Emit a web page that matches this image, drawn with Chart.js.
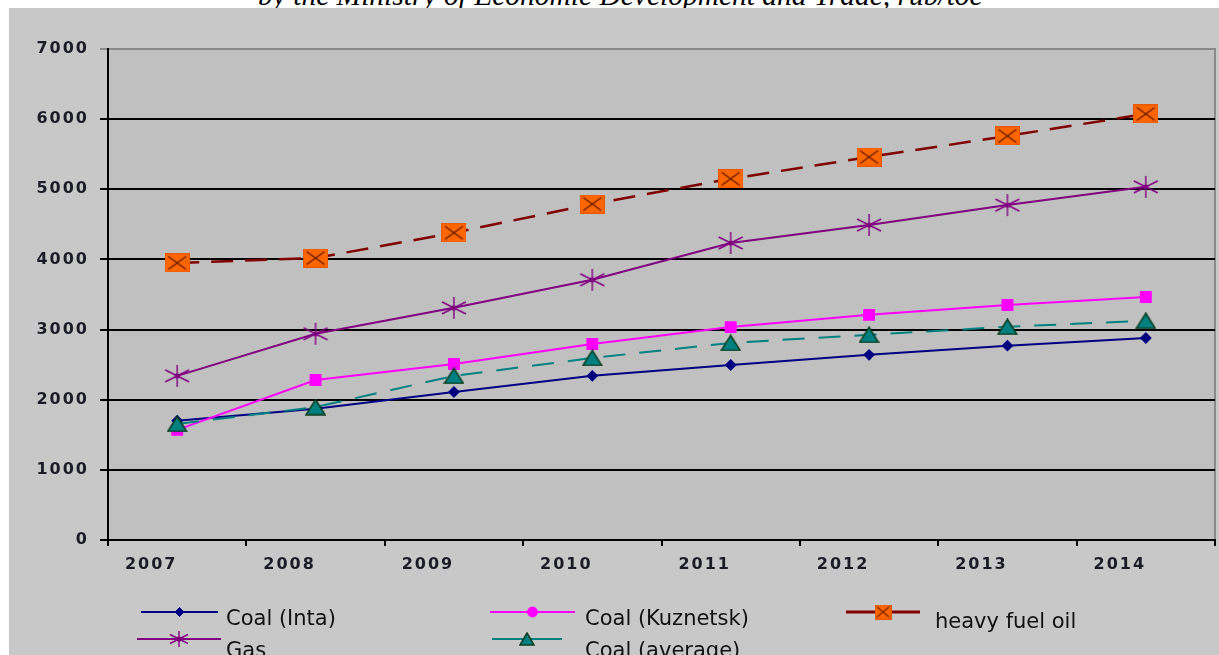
<!DOCTYPE html>
<html><head><meta charset="utf-8">
<script src="https://cdn.jsdelivr.net/npm/chart.js@4.4.0/dist/chart.umd.min.js"></script>
<style>
html,body{margin:0;padding:0;background:#fff;width:1219px;height:655px;overflow:hidden;position:relative;}
#cap{position:absolute;left:258px;top:-16px;font-family:'Liberation Serif','DejaVu Serif',serif;font-style:italic;font-size:22px;line-height:22px;white-space:nowrap;color:#000;z-index:1;}
#wrap{position:absolute;left:9px;top:8px;width:1210px;height:647px;background:#c8c8c8;z-index:2;}
canvas{display:block;}
</style></head><body>
<div id="cap">by the Ministry of Economic Development and Trade, rub/toe</div>
<div id="wrap"><canvas id="c" width="1210" height="647"></canvas></div>
<script>
// ---- data ----
const years = ['2007','2008','2009','2010','2011','2012','2013','2014'];
const coalInta = [1700, 1870, 2110, 2340, 2495, 2640, 2770, 2880];
const coalKuznetsk = [1570, 2280, 2510, 2795, 3035, 3210, 3350, 3465];
const heavyFuelOil = [3950, 4020, 4380, 4790, 5150, 5460, 5760, 6075];
const gas = [2340, 2940, 3310, 3710, 4235, 4490, 4775, 5035];
const coalAverage = [1655, 1895, 2340, 2595, 2810, 2925, 3040, 3125];
const seriesNames = ['Coal (Inta)', 'Coal (Kuznetsk)', 'heavy fuel oil', 'Gas', 'Coal (average)'];

// caption width fit
(function(){
  const cap = document.getElementById('cap');
  const w = cap.getBoundingClientRect().width;
  cap.style.fontSize = (22 * 725 / w) + 'px';
})();

// ---- marker images ----
function makeHfo(w, h){
  const c = document.createElement('canvas'); c.width = w; c.height = h;
  const g = c.getContext('2d');
  g.fillStyle = '#FF6600'; g.fillRect(0, 0, w, h);
  g.strokeStyle = '#e85a00'; g.lineWidth = 1; g.strokeRect(0.5, 0.5, w-1, h-1);
  g.strokeStyle = '#5a1800'; g.lineWidth = 1.2;
  g.beginPath();
  g.moveTo(w*0.14, h*0.16); g.lineTo(w*0.86, h*0.84);
  g.moveTo(w*0.86, h*0.16); g.lineTo(w*0.14, h*0.84);
  g.stroke();
  return c;
}
function makeStar(w, h){
  const c = document.createElement('canvas'); c.width = w; c.height = h;
  const g = c.getContext('2d');
  g.strokeStyle = '#800080'; g.lineWidth = 1.4;
  g.beginPath();
  g.moveTo(w/2, 1); g.lineTo(w/2, h-1);
  g.moveTo(1, h*0.25); g.lineTo(w-1, h*0.75);
  g.moveTo(1, h*0.75); g.lineTo(w-1, h*0.25);
  g.stroke();
  g.fillStyle = '#800080';
  g.beginPath(); g.arc(w/2, h/2, 2.6, 0, Math.PI*2); g.fill();
  return c;
}
function makeTri(w, h){
  const c = document.createElement('canvas'); c.width = w; c.height = h;
  const g = c.getContext('2d');
  g.fillStyle = '#008080'; g.strokeStyle = '#0a3d1e'; g.lineWidth = 1.5;
  g.beginPath(); g.moveTo(w/2, 1); g.lineTo(w-1, h-1); g.lineTo(1, h-1); g.closePath();
  g.fill(); g.stroke();
  return c;
}
const hfoImg = makeHfo(25, 19), hfoLeg = makeHfo(17, 15);
const starImg = makeStar(26, 24), starLeg = makeStar(20, 18);
const triImg = makeTri(21, 17), triLeg = makeTri(16, 14);

// ---- plugins ----
const bgPlugin = {
  id: 'bg',
  beforeDraw(chart){
    const {ctx, chartArea: a} = chart;
    ctx.save();
    ctx.fillStyle = '#c0c0c0';
    ctx.fillRect(a.left, a.top, a.right - a.left, a.bottom - a.top);
    ctx.strokeStyle = '#8a8a8a'; ctx.lineWidth = 2;
    ctx.strokeRect(a.left, a.top, a.right - a.left, a.bottom - a.top);
    ctx.restore();
    ctx.letterSpacing = '2px';
  },
  afterDatasetsDraw(chart){ chart.ctx.letterSpacing = '0px'; }
};

const OX = 9, OY = 8;
const legendLayout = [
  {ds:0, x1:141, x2:218, tx:226, ly:612, by:625, img:null},
  {ds:1, x1:490, x2:575, tx:585, ly:612, by:625, img:null},
  {ds:2, x1:846, x2:920, tx:935, ly:612, by:628, img:hfoLeg},
  {ds:3, x1:137, x2:221, tx:226, ly:639, by:657, img:starLeg},
  {ds:4, x1:492, x2:562, tx:585, ly:639, by:657, img:triLeg}
];
const legendPlugin = {
  id: 'customLegend',
  afterDraw(chart){
    const ctx = chart.ctx;
    ctx.save();
    ctx.letterSpacing = '0px';
    legendLayout.forEach(it => {
      const ds = chart.data.datasets[it.ds];
      const y = it.ly - OY;
      ctx.strokeStyle = ds.borderColor;
      ctx.lineWidth = it.ds === 2 ? 3 : 2;
      ctx.setLineDash([]);
      ctx.beginPath(); ctx.moveTo(it.x1 - OX, y); ctx.lineTo(it.x2 - OX, y); ctx.stroke();
      const mx = (it.x1 + it.x2) / 2 - OX;
      if (it.img) {
        ctx.drawImage(it.img, mx - it.img.width/2, y - it.img.height/2);
      } else {
        ctx.fillStyle = ds.pointBackgroundColor;
        ctx.strokeStyle = ds.pointBorderColor;
        ctx.lineWidth = 1;
        Chart.helpers.drawPoint(ctx, {pointStyle: it.ds === 1 ? 'circle' : 'rectRot', radius: it.ds === 1 ? 5 : 4.5, borderWidth: 1, rotation: 0}, mx, y);
      }
      ctx.fillStyle = '#111';
      ctx.font = '21px "DejaVu Sans", Verdana, sans-serif';
      ctx.textBaseline = 'alphabetic';
      ctx.textAlign = 'left';
      ctx.fillText(seriesNames[it.ds], it.tx - OX, it.by - OY);
    });
    ctx.restore();
  }
};

const tickFont = {family: '"DejaVu Sans", Verdana, sans-serif', weight: 'bold', size: 16};

new Chart(document.getElementById('c'), {
  type: 'line',
  data: {
    labels: years,
    datasets: [
      {label: seriesNames[0], data: coalInta, borderColor: '#000080', borderWidth: 2,
       pointStyle: 'rectRot', pointRadius: 4.5, pointBackgroundColor: '#000080', pointBorderColor: '#000080', order: 5},
      {label: seriesNames[1], data: coalKuznetsk, borderColor: '#FF00FF', borderWidth: 2,
       pointStyle: 'rect', pointRadius: 7, pointBackgroundColor: '#FF00FF', pointBorderColor: '#FF00FF', order: 4},
      {label: seriesNames[2], data: heavyFuelOil, borderColor: '#800000', borderWidth: 2.5, borderDash: [22, 12],
       pointStyle: hfoImg, pointRadius: 12, order: 3},
      {label: seriesNames[3], data: gas, borderColor: '#800080', borderWidth: 2,
       pointStyle: starImg, pointRadius: 12, order: 2},
      {label: seriesNames[4], data: coalAverage, borderColor: '#008080', borderWidth: 2, borderDash: [22, 14],
       pointStyle: triImg, pointRadius: 10, order: 1}
    ]
  },
  options: {
    responsive: false,
    animation: false,
    devicePixelRatio: 1,
    layout: {autoPadding: false, padding: {top: 41, right: 4, left: 0, bottom: 0}},
    plugins: {legend: {display: false}, tooltip: {enabled: false}, title: {display: false}},
    elements: {line: {tension: 0}},
    scales: {
      x: {
        offset: true,
        grid: {offset: true, drawOnChartArea: false, drawTicks: true, tickLength: 6, color: '#000', lineWidth: 2},
        border: {display: true, color: '#000', width: 2},
        ticks: {font: tickFont, color: '#1c1c28', labelOffset: -26, padding: 9, maxRotation: 0, autoSkip: false},
        afterFit(s){ s.height = 115; s.paddingLeft = 0; s.paddingRight = 0; }
      },
      y: {
        min: 0, max: 7000,
        grid: {color: ctx => ctx.tick && ctx.tick.value === 7000 ? '#8a8a8a' : '#000', lineWidth: 2, tickLength: 8},
        border: {display: true, color: '#000', width: 2},
        ticks: {stepSize: 1000, font: tickFont, color: '#1c1c28', padding: 11, callback: v => String(v)},
        afterFit(s){ s.width = 99; }
      }
    }
  },
  plugins: [bgPlugin, legendPlugin]
});
</script>
</body></html>
